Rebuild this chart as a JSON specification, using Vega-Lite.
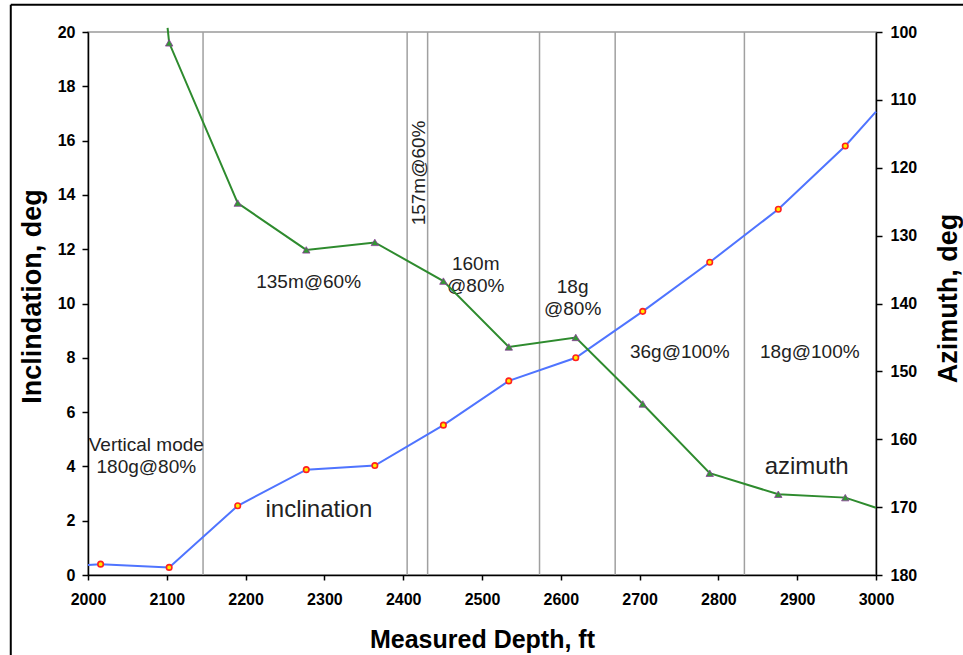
{
  "$schema": "https://vega.github.io/schema/vega-lite/v6.json",
  "width": 788,
  "height": 543,
  "autosize": {"type": "none"},
  "padding": {"left": 88, "top": 32, "right": 87, "bottom": 80},
  "background": "white",
  "config": {
    "view": {"stroke": "#9a9a9a", "strokeWidth": 1.5},
    "font": "Liberation Sans",
    "axisX": {
      "grid": false,
      "labelFont": "Liberation Sans", "labelFontWeight": "bold", "labelFontSize": 16, "labelColor": "black",
      "labelPadding": 11, "labelFlush": false, "labelOverlap": false,
      "tickColor": "black", "tickSize": 5, "tickWidth": 1.5,
      "domainColor": "black", "domainWidth": 1.5,
      "titleFont": "Liberation Sans", "titleFontSize": 25, "titleFontWeight": "bold", "titleColor": "black",
      "titleX": 394, "titleY": 72, "titleBaseline": "alphabetic", "titleAlign": "center"
    }
  },
  "datasets": {
    "inclination": [
      {"md": 2000, "incl": 0.37},
      {"md": 2016, "incl": 0.40},
      {"md": 2103, "incl": 0.28},
      {"md": 2190, "incl": 2.55},
      {"md": 2277, "incl": 3.88},
      {"md": 2364, "incl": 4.03},
      {"md": 2451, "incl": 5.52},
      {"md": 2534, "incl": 7.15},
      {"md": 2619, "incl": 8.0},
      {"md": 2704, "incl": 9.71},
      {"md": 2789, "incl": 11.52},
      {"md": 2876, "incl": 13.47},
      {"md": 2961, "incl": 15.8},
      {"md": 3000, "incl": 17.07}
    ],
    "azimuth": [
      {"md": 2101, "az": 99.4},
      {"md": 2103, "az": 101.6},
      {"md": 2190, "az": 125.2},
      {"md": 2277, "az": 132.1},
      {"md": 2364, "az": 131.0},
      {"md": 2451, "az": 136.7},
      {"md": 2534, "az": 146.4},
      {"md": 2619, "az": 145.0},
      {"md": 2704, "az": 154.8},
      {"md": 2789, "az": 165.0},
      {"md": 2876, "az": 168.1},
      {"md": 2961, "az": 168.6},
      {"md": 3000, "az": 170.1}
    ],
    "bhaChanges": [
      {"md": 2146}, {"md": 2405}, {"md": 2431}, {"md": 2573}, {"md": 2669}, {"md": 2833}
    ],
    "labels": [
      {"md": 2074, "incl": 4.77, "label": "Vertical mode\n180g@80%"},
      {"md": 2280, "incl": 10.8, "label": "135m@60%"},
      {"md": 2492, "incl": 11.47, "label": "160m\n@80%"},
      {"md": 2615, "incl": 10.6, "label": "18g\n@80%"},
      {"md": 2751, "incl": 8.22, "label": "36g@100%"},
      {"md": 2916, "incl": 8.22, "label": "18g@100%"}
    ],
    "vlabels": [
      {"md": 2420, "incl": 14.81, "label": "157m@60%"}
    ],
    "seriesLabels": [
      {"md": 2293, "incl": 2.39, "label": "inclination"},
      {"md": 2912, "incl": 3.97, "label": "azimuth"}
    ]
  },
  "layer": [
    {
      "data": {"name": "bhaChanges"},
      "mark": {"type": "rule", "color": "#a0a0a0", "strokeWidth": 1.5},
      "encoding": {
        "x": {"field": "md", "type": "quantitative", "title": "Measured Depth, ft", "scale": {"domain": [2000, 3000], "nice": false, "zero": false}, "axis": {"values": [2000, 2100, 2200, 2300, 2400, 2500, 2600, 2700, 2800, 2900, 3000], "format": "d", "labelFontSize": 16}}
      }
    },
    {
      "data": {"name": "inclination"},
      "mark": {"type": "line", "color": "#4f74ff", "strokeWidth": 2},
      "encoding": {
        "x": {"field": "md", "type": "quantitative", "title": "Measured Depth, ft", "scale": {"domain": [2000, 3000], "nice": false, "zero": false}, "axis": {"values": [2000, 2100, 2200, 2300, 2400, 2500, 2600, 2700, 2800, 2900, 3000], "format": "d", "labelFontSize": 16}},
        "y": {
          "field": "incl", "type": "quantitative",
          "scale": {"domain": [0, 20], "nice": false, "zero": false},
          "axis": {
            "orient": "left",
            "values": [0, 2, 4, 6, 8, 10, 12, 14, 16, 18, 20],
            "grid": false,
            "labelFont": "Liberation Sans", "labelFontWeight": "bold", "labelFontSize": 16, "labelColor": "black",
            "labelPadding": 7, "labelFlush": false, "labelOverlap": false,
            "tickColor": "black", "tickSize": 6, "tickWidth": 1.5,
            "domainColor": "black", "domainWidth": 1.5,
            "title": "Inclindation, deg",
            "titleFont": "Liberation Sans", "titleFontSize": 27, "titleFontWeight": "bold", "titleColor": "black",
            "titleAngle": 270, "titleX": -56, "titleY": 264, "titleBaseline": "middle", "titleAlign": "center"
          }
        }
      }
    },
    {
      "data": {"name": "inclination"},
      "transform": [{"filter": "datum.md > 2000 && datum.md < 3000"}],
      "mark": {"type": "point", "shape": "circle", "filled": true, "fill": "#ffee00", "stroke": "#ff2020", "strokeWidth": 1.6, "size": 30, "opacity": 1},
      "encoding": {
        "x": {"field": "md", "type": "quantitative", "title": "Measured Depth, ft", "scale": {"domain": [2000, 3000], "nice": false, "zero": false}, "axis": {"values": [2000, 2100, 2200, 2300, 2400, 2500, 2600, 2700, 2800, 2900, 3000], "format": "d", "labelFontSize": 16}},
        "y": {"field": "incl", "type": "quantitative", "scale": {"domain": [0, 20], "nice": false, "zero": false}, "axis": null}
      }
    },
    {
      "data": {"name": "labels"},
      "mark": {"type": "text", "font": "Liberation Sans", "fontSize": 19, "color": "#222222", "lineBreak": "\n", "lineHeight": 22, "align": "center", "baseline": "middle"},
      "encoding": {
        "x": {"field": "md", "type": "quantitative", "title": "Measured Depth, ft", "scale": {"domain": [2000, 3000], "nice": false, "zero": false}, "axis": {"values": [2000, 2100, 2200, 2300, 2400, 2500, 2600, 2700, 2800, 2900, 3000], "format": "d", "labelFontSize": 16}},
        "y": {"field": "incl", "type": "quantitative", "scale": {"domain": [0, 20], "nice": false, "zero": false}, "axis": null},
        "text": {"field": "label"}
      }
    },
    {
      "data": {"name": "vlabels"},
      "mark": {"type": "text", "font": "Liberation Sans", "fontSize": 19, "color": "#222222", "angle": 270, "align": "center", "baseline": "middle"},
      "encoding": {
        "x": {"field": "md", "type": "quantitative", "title": "Measured Depth, ft", "scale": {"domain": [2000, 3000], "nice": false, "zero": false}, "axis": {"values": [2000, 2100, 2200, 2300, 2400, 2500, 2600, 2700, 2800, 2900, 3000], "format": "d", "labelFontSize": 16}},
        "y": {"field": "incl", "type": "quantitative", "scale": {"domain": [0, 20], "nice": false, "zero": false}, "axis": null},
        "text": {"field": "label"}
      }
    },
    {
      "data": {"name": "seriesLabels"},
      "mark": {"type": "text", "font": "Liberation Sans", "fontSize": 24, "color": "#222222", "align": "center", "baseline": "middle"},
      "encoding": {
        "x": {"field": "md", "type": "quantitative", "title": "Measured Depth, ft", "scale": {"domain": [2000, 3000], "nice": false, "zero": false}, "axis": {"values": [2000, 2100, 2200, 2300, 2400, 2500, 2600, 2700, 2800, 2900, 3000], "format": "d", "labelFontSize": 16}},
        "y": {"field": "incl", "type": "quantitative", "scale": {"domain": [0, 20], "nice": false, "zero": false}, "axis": null},
        "text": {"field": "label"}
      }
    },
    {
      "data": {"values": [{}]},
      "mark": {"type": "rule", "color": "black", "strokeWidth": 2},
      "encoding": {
        "x": {"datum": 1902, "type": "quantitative", "title": "Measured Depth, ft", "scale": {"domain": [2000, 3000], "nice": false, "zero": false}, "axis": {"values": [2000, 2100, 2200, 2300, 2400, 2500, 2600, 2700, 2800, 2900, 3000], "format": "d", "labelFontSize": 16}},
        "y": {"datum": 21.0, "type": "quantitative", "scale": {"domain": [0, 20], "nice": false, "zero": false}, "axis": null},
        "y2": {"datum": -5}
      }
    },
    {
      "data": {"values": [{}]},
      "mark": {"type": "rule", "color": "black", "strokeWidth": 2},
      "encoding": {
        "x": {"datum": 1902, "type": "quantitative", "title": "Measured Depth, ft", "scale": {"domain": [2000, 3000], "nice": false, "zero": false}, "axis": {"values": [2000, 2100, 2200, 2300, 2400, 2500, 2600, 2700, 2800, 2900, 3000], "format": "d", "labelFontSize": 16}},
        "x2": {"datum": 3200},
        "y": {"datum": 21.0, "type": "quantitative", "scale": {"domain": [0, 20], "nice": false, "zero": false}, "axis": null}
      }
    },
    {
      "data": {"name": "azimuth"},
      "mark": {"type": "line", "color": "#2e8b2e", "strokeWidth": 2},
      "encoding": {
        "x": {"field": "md", "type": "quantitative", "title": "Measured Depth, ft", "scale": {"domain": [2000, 3000], "nice": false, "zero": false}, "axis": {"values": [2000, 2100, 2200, 2300, 2400, 2500, 2600, 2700, 2800, 2900, 3000], "format": "d", "labelFontSize": 16}},
        "y": {
          "field": "az", "type": "quantitative",
          "scale": {"domain": [100, 180], "reverse": true, "nice": false, "zero": false},
          "axis": {
            "orient": "right",
            "values": [100, 110, 120, 130, 140, 150, 160, 170, 180],
            "grid": false,
            "labelFont": "Liberation Sans", "labelFontWeight": "bold", "labelFontSize": 16, "labelColor": "black",
            "labelPadding": 8, "labelFlush": false, "labelOverlap": false,
            "tickColor": "black", "tickSize": 6, "tickWidth": 1.5,
            "domainColor": "black", "domainWidth": 1.5,
            "title": "Azimuth, deg",
            "titleFont": "Liberation Sans", "titleFontSize": 27, "titleFontWeight": "bold", "titleColor": "black",
            "titleAngle": 270, "titleX": 72, "titleY": 266, "titleBaseline": "middle", "titleAlign": "center"
          }
        }
      }
    },
    {
      "data": {"name": "azimuth"},
      "transform": [{"filter": "datum.md > 2101 && datum.md < 3000"}],
      "mark": {"type": "point", "shape": "triangle-up", "filled": true, "fill": "#339933", "stroke": "#8a3a9a", "strokeWidth": 0.8, "size": 55, "opacity": 1},
      "encoding": {
        "x": {"field": "md", "type": "quantitative", "title": "Measured Depth, ft", "scale": {"domain": [2000, 3000], "nice": false, "zero": false}, "axis": {"values": [2000, 2100, 2200, 2300, 2400, 2500, 2600, 2700, 2800, 2900, 3000], "format": "d", "labelFontSize": 16}},
        "y": {"field": "az", "type": "quantitative", "scale": {"domain": [100, 180], "reverse": true, "nice": false, "zero": false}, "axis": null}
      }
    }
  ],
  "resolve": {"scale": {"y": "independent"}}
}
